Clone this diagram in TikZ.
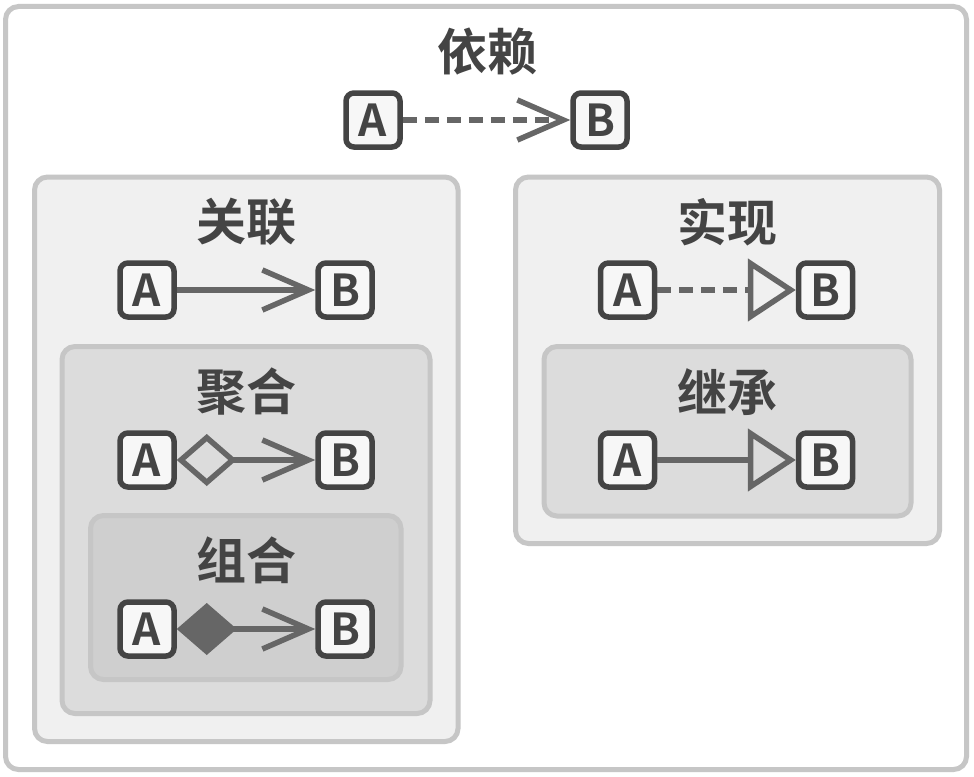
\documentclass[tikz,border=0pt]{standalone}
\usepackage{fontspec}
\setmainfont{Noto Sans CJK SC}[BoldFont=* Bold]
\usetikzlibrary{arrows.meta}
\definecolor{framec}{HTML}{C6C6C6}
\definecolor{bgone}{HTML}{F0F0F0}
\definecolor{bgtwo}{HTML}{DCDCDC}
\definecolor{bgthree}{HTML}{CFCFCF}
\definecolor{nf}{HTML}{F7F7F7}
\definecolor{dk}{HTML}{444444}
\definecolor{ln}{HTML}{666666}
\begin{document}
\begin{tikzpicture}[x=1pt,y=-1pt,
  cls/.style={draw=dk, line width=5.5pt, fill=nf, rounded corners=8pt, minimum width=54pt, minimum height=54pt, inner sep=0pt, font=\fontsize{44}{44}\selectfont\bfseries, text=dk},
  ttl/.style={font=\fontsize{50}{50}\selectfont\bfseries, text=dk, inner sep=0pt},
  grp/.style={draw=framec, line width=5pt, rounded corners=13pt},
  rel/.style={draw=ln, line width=5.5pt},
  dsh/.style={dash pattern=on 14pt off 8pt},
  vhd/.style={-{Straight Barb[length=46pt,width=40pt]}},
]
\fill[white] (0,0) rectangle (974,776);
\useasboundingbox (0,0) rectangle (974,776);
% groups
\draw[grp, fill=white] (5.5,6.5) rectangle (966.5,769.5);
\draw[grp, fill=bgone] (34.5,177) rectangle (458,741.5);
\draw[grp, fill=bgone] (515.5,177) rectangle (939.5,543.5);
\draw[grp, fill=bgtwo] (62,346.5) rectangle (430,713.5);
\draw[grp, fill=bgtwo] (544,346.5) rectangle (911,516);
\draw[grp, fill=bgthree] (90.5,515.5) rectangle (401,679.5);
% titles
\node[ttl] (t1) at (487,52) {依赖};
\node[ttl] (t2) at (246,222) {关联};
\node[ttl] (t3) at (727,222) {实现};
\node[ttl] (t4) at (246,392) {聚合};
\node[ttl] (t5) at (727,392) {继承};
\node[ttl] (t6) at (246,560) {组合};
% nodes
\node[cls] (a1) at (373,120) {A};
\node[cls] (b1) at (600,120) {B};
\node[cls] (a2) at (147,290) {A};
\node[cls] (b2) at (345,290) {B};
\node[cls] (a3) at (627.5,290) {A};
\node[cls] (b3) at (825.5,290) {B};
\node[cls] (a4) at (147,460) {A};
\node[cls] (b4) at (345,460) {B};
\node[cls] (a5) at (627.5,460) {A};
\node[cls] (b5) at (825.5,460) {B};
\node[cls] (a6) at (147,629) {A};
\node[cls] (b6) at (345,629) {B};
% connectors
\draw[rel, dsh, vhd] (a1) -- (b1);
\draw[rel, vhd] (a2) -- (b2);
\draw[rel, dsh, -{Triangle[length=48pt,width=62pt,fill=bgone]}] (a3) -- (b3);
\draw[rel, {Diamond[length=60pt,width=52pt,fill=bgtwo]}-{Straight Barb[length=46pt,width=40pt]}] (a4) -- (b4);
\draw[rel, -{Triangle[length=48pt,width=62pt,fill=bgtwo]}] (a5) -- (b5);
\draw[rel, {Diamond[length=60pt,width=52pt]}-{Straight Barb[length=46pt,width=40pt]}] (a6) -- (b6);
\end{tikzpicture}
\end{document}
